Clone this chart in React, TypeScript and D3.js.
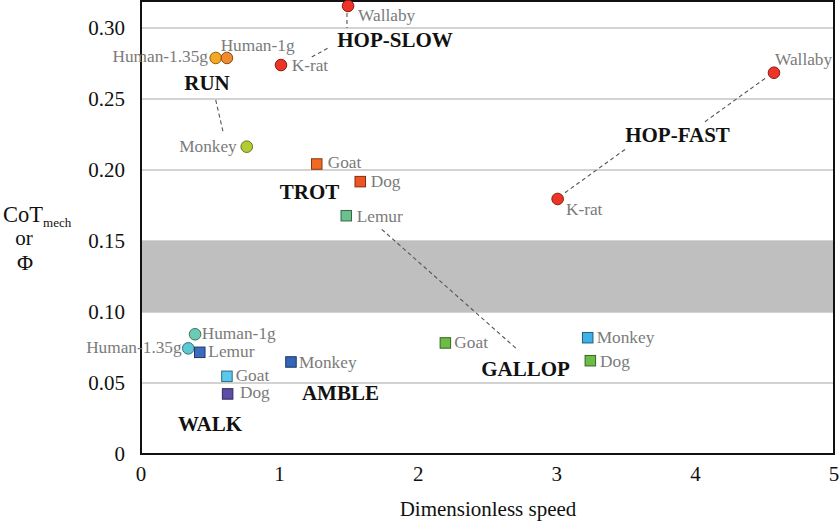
import { useEffect, useRef } from "react";
import * as d3 from "d3";

// Points: animal, speed (dimensionless), CoT_mech or Phi
const animals = [
    "Wallaby", "K-rat", "Human-1.35g", "Human-1g", "Monkey",
    "Wallaby", "K-rat",
    "Goat", "Dog", "Lemur",
    "Human-1g", "Human-1.35g", "Lemur", "Monkey", "Goat", "Dog",
    "Goat", "Monkey", "Dog",
];
const speeds = [
    1.494, 1.01, 0.539, 0.62, 0.763,
    4.567, 3.006,
    1.268, 1.582, 1.481,
    0.39, 0.341, 0.424, 1.082, 0.62, 0.625,
    2.196, 3.223, 3.242,
];
const cots = [
    0.3155, 0.2739, 0.2789, 0.2789, 0.2164,
    0.2685, 0.1796,
    0.2042, 0.1918, 0.1678,
    0.0843, 0.0744, 0.0716, 0.0648, 0.0547, 0.0423,
    0.0782, 0.0819, 0.0657,
];
const shapes = [
    "circle", "circle", "circle", "circle", "circle",
    "circle", "circle",
    "square", "square", "square",
    "circle", "circle", "square", "square", "square", "square",
    "square", "square", "square",
];
const fills = [
    "#ee3424", "#ee3424", "#f7a823", "#f18a2c", "#b4cc32",
    "#ee3424", "#ee3424",
    "#f26a22", "#ef5424", "#6cc08c",
    "#6ccbb3", "#5cc8d2", "#3d6bbf", "#3466b6", "#5cc9ec", "#5a4ea6",
    "#6bbd45", "#3eb1e7", "#6bbd45",
];
// label placement relative to marker (px)
const labelDx = [10, 10.7, -7.7, -6.3, -10, 1, 8.3, 11, 10.4, 10.4, 6.7, -6.6, 8.6, 8, 8.7, 12.3, 9, 9, 9.7];
const labelDy = [15, 6, 4, 7 - 14, 5.3, -7.7, 16, 4, 5.3, 6, 4.7, 4.4, 5, 6, 4.2, 4.5, 5, 5, 6];
const labelAnchor = [
    "start", "start", "end", "start", "end", "start", "start", "start", "start", "start",
    "start", "end", "start", "start", "start", "start", "start", "start", "start",
];

// Gait names (center x, baseline y in data units)
const gaits = ["HOP-SLOW", "RUN", "TROT", "HOP-FAST", "GALLOP", "AMBLE", "WALK"];
const gaitX = [1.833, 0.476, 1.216, 3.871, 2.774, 1.439, 0.498];
const gaitY = [0.2866, 0.2563, 0.1796, 0.2197, 0.0549, 0.038, 0.0162];

// Dashed leader lines [x1, y1, x2, y2] in data units
const leaders = [
    [1.486, 0.3106, 1.486, 0.3],
    [1.232, 0.2796, 1.364, 0.2866],
    [0.539, 0.2493, 0.594, 0.2261],
    [3.059, 0.184, 3.504, 0.2153],
    [4.069, 0.234, 4.514, 0.2653],
    [1.737, 0.1582, 2.72, 0.0732],
];

const xTicks = [0, 1, 2, 3, 4, 5];
const yTicks = [0, 0.05, 0.1, 0.15, 0.2, 0.25, 0.3];
const gridValues = [0.05, 0.1, 0.15, 0.2, 0.25, 0.3];
const bandRange = [0.1, 0.15];

const serif = "'Liberation Serif', 'Times New Roman', serif";

export default function App() {
    const svgRef = useRef<SVGSVGElement | null>(null);

    useEffect(() => {
        if (!svgRef.current) return;
        const svg = d3.select(svgRef.current);
        svg.selectAll("*").remove();

        const width = 840;
        const height = 523;
        const margin = { top: 1, right: 6, bottom: 69, left: 141 };
        const innerWidth = width - margin.left - margin.right;
        const innerHeight = height - margin.top - margin.bottom;

        const x = d3.scaleLinear().domain([0, 5]).range([margin.left, margin.left + innerWidth]);
        const y = d3.scaleLinear().domain([0, 0.319]).range([margin.top + innerHeight, margin.top]);

        // gridlines
        svg.append("g")
            .selectAll("line")
            .data(gridValues)
            .enter()
            .append("line")
            .attr("x1", x(0))
            .attr("x2", x(5))
            .attr("y1", (d) => y(d))
            .attr("y2", (d) => y(d))
            .attr("stroke", "#c4c4c4")
            .attr("stroke-width", 1.6);

        // grey band
        svg.append("rect")
            .attr("x", x(0))
            .attr("width", x(5) - x(0))
            .attr("y", y(bandRange[1]))
            .attr("height", y(bandRange[0]) - y(bandRange[1]))
            .attr("fill", "#c0bfc0");

        // leader lines
        svg.append("g")
            .selectAll("line")
            .data(leaders)
            .enter()
            .append("line")
            .attr("x1", (d) => x(d[0]))
            .attr("y1", (d) => y(d[1]))
            .attr("x2", (d) => x(d[2]))
            .attr("y2", (d) => y(d[3]))
            .attr("stroke", "#555")
            .attr("stroke-width", 1.1)
            .attr("stroke-dasharray", "4,3");

        // frame
        svg.append("rect")
            .attr("x", x(0))
            .attr("y", y(0.319))
            .attr("width", x(5) - x(0))
            .attr("height", y(0) - y(0.319))
            .attr("fill", "none")
            .attr("stroke", "#111")
            .attr("stroke-width", 2);

        // y ticks
        svg.append("g")
            .selectAll("text")
            .data(yTicks)
            .enter()
            .append("text")
            .attr("x", 125)
            .attr("y", (d) => y(d))
            .attr("dy", "0.35em")
            .attr("text-anchor", "end")
            .attr("font-family", serif)
            .attr("font-size", 21)
            .attr("fill", "#111")
            .text((d) => (d === 0 ? "0" : d3.format(".2f")(d)));

        // x ticks
        svg.append("g")
            .selectAll("text")
            .data(xTicks)
            .enter()
            .append("text")
            .attr("x", (d) => x(d))
            .attr("y", 481)
            .attr("text-anchor", "middle")
            .attr("font-family", serif)
            .attr("font-size", 21)
            .attr("fill", "#111")
            .text((d) => d);

        // axis titles
        svg.append("text")
            .attr("x", 488)
            .attr("y", 516)
            .attr("text-anchor", "middle")
            .attr("font-family", serif)
            .attr("font-size", 21)
            .attr("fill", "#111")
            .text("Dimensionless speed");

        const yTitle = svg.append("g").attr("font-family", serif).attr("fill", "#111");
        const cot = yTitle.append("text").attr("x", 3).attr("y", 222).attr("font-size", 22.5);
        cot.append("tspan").text("CoT");
        cot.append("tspan").attr("font-size", 13).attr("dy", 5).text("mech");
        yTitle.append("text").attr("x", 24).attr("y", 245).attr("text-anchor", "middle")
            .attr("font-size", 21).text("or");
        yTitle.append("text").attr("x", 25).attr("y", 270).attr("text-anchor", "middle")
            .attr("font-size", 22).text("Φ");

        // markers
        const idx = d3.range(animals.length);
        const marks = svg.append("g");
        marks.selectAll("circle")
            .data(idx.filter((i) => shapes[i] === "circle"))
            .enter()
            .append("circle")
            .attr("cx", (i) => x(speeds[i]))
            .attr("cy", (i) => y(cots[i]))
            .attr("r", 5.8)
            .attr("fill", (i) => fills[i])
            .attr("stroke", (i) => d3.color(fills[i])!.darker(1.6).formatHex())
            .attr("stroke-width", 1);

        const side = 10.5;
        marks.selectAll("rect")
            .data(idx.filter((i) => shapes[i] === "square"))
            .enter()
            .append("rect")
            .attr("x", (i) => x(speeds[i]) - side / 2)
            .attr("y", (i) => y(cots[i]) - side / 2)
            .attr("width", side)
            .attr("height", side)
            .attr("fill", (i) => fills[i])
            .attr("stroke", (i) => d3.color(fills[i])!.darker(1.8).formatHex())
            .attr("stroke-width", 1);

        // point labels
        svg.append("g")
            .selectAll("text")
            .data(idx)
            .enter()
            .append("text")
            .attr("x", (i) => x(speeds[i]) + labelDx[i])
            .attr("y", (i) => y(cots[i]) + labelDy[i])
            .attr("text-anchor", (i) => labelAnchor[i])
            .attr("font-family", serif)
            .attr("font-size", 17.3)
            .attr("fill", "#7b7b7b")
            .text((i) => animals[i]);

        // gait names
        svg.append("g")
            .selectAll("text")
            .data(gaits)
            .enter()
            .append("text")
            .attr("x", (_, i) => x(gaitX[i]))
            .attr("y", (_, i) => y(gaitY[i]))
            .attr("text-anchor", "middle")
            .attr("font-family", serif)
            .attr("font-size", 21)
            .attr("font-weight", "bold")
            .attr("fill", "#111")
            .text((d) => d);
    }, []);

    return (
        <svg
            ref={svgRef}
            width={840}
            height={523}
            style={{ position: "absolute", left: 0, top: 0, background: "#fff" }}
        />
    );
}
